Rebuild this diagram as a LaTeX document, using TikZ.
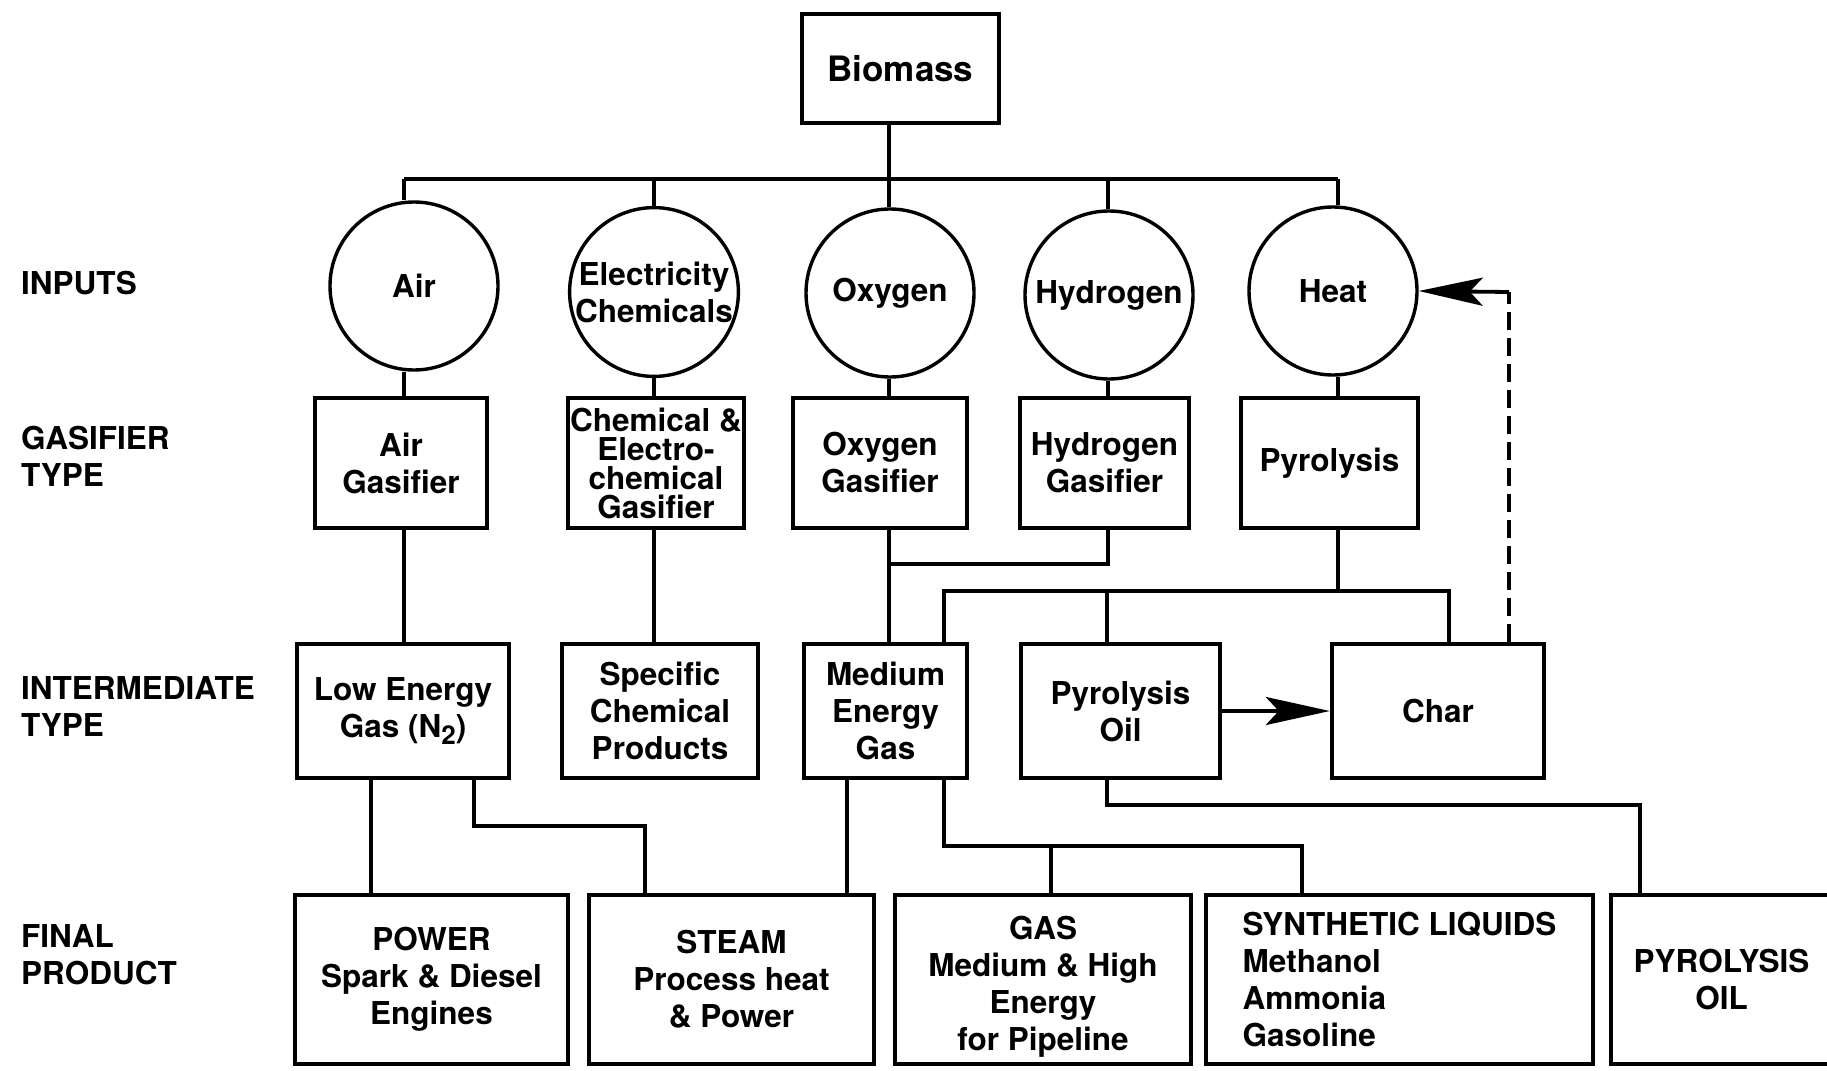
\documentclass[tikz,border=0pt]{standalone}
\usepackage{fontspec}
\setmainfont{TeX Gyre Heros}
\usetikzlibrary{arrows.meta}
\begin{document}
\begin{tikzpicture}[x=1pt,y=-1pt,
  every node/.style={font=\bfseries\fontsize{31.5}{37}\selectfont, align=center, inner sep=0pt},
  box/.style={draw, line width=4.4pt, rectangle},
  inp/.style={draw, circle, line width=3.4pt, minimum size=168pt},
  conn/.style={line width=3.8pt},
  lbl/.style={anchor=west, align=left},
  tip/.style={-{Stealth[length=64pt,width=28pt,inset=13pt]}}]
\path[use as bounding box] (0,0) rectangle (1827,1070);
\clip (0,0) rectangle (1827,1070);
\fill[white] (0,0) rectangle (1827,1070);

% top
\node[box, minimum width=197pt, minimum height=109pt, font=\bfseries\fontsize{35}{40}\selectfont] (bio) at (900.5,68.5) {Biomass};

% inputs
\node[inp] (airc) at (414,286) {Air};
\node[inp] (chemc) at (654,292) {Electricity\\Chemicals};
\node[inp] (oxc) at (890,293) {Oxygen};
\node[inp] (hydc) at (1109,295) {Hydrogen};
\node[inp] (heatc) at (1333,291) {Heat};

% gasifiers
\node[box, minimum width=172pt, minimum height=130pt] (airg) at (401,463) {Air\\Gasifier};
\node[box, minimum width=176pt, minimum height=130pt, font=\bfseries\fontsize{31.5}{29}\selectfont] (chemg) at (656,463) {Chemical \&\\Electro-\\chemical\\Gasifier};
\node[box, minimum width=174pt, minimum height=130pt] (oxyg) at (880,463) {Oxygen\\Gasifier};
\node[box, minimum width=169pt, minimum height=130pt] (hydg) at (1104.5,463) {Hydrogen\\Gasifier};
\node[box, minimum width=177pt, minimum height=130pt] (pyrg) at (1329.5,463) {Pyrolysis};

% intermediates
\node[box, minimum width=212pt, minimum height=134pt] (leg) at (403,711) {Low Energy\\Gas (N\raisebox{-7pt}{\fontsize{26}{26}\selectfont 2})};
\node[box, minimum width=196pt, minimum height=134pt] (scp) at (660,711) {Specific\\Chemical\\Products};
\node[box, minimum width=163pt, minimum height=134pt] (meg) at (885.5,711) {Medium\\Energy\\Gas};
\node[box, minimum width=199pt, minimum height=134pt] (pyo) at (1120.5,711) {Pyrolysis\\Oil};
\node[box, minimum width=212pt, minimum height=134pt] (char) at (1438,711) {Char};

% final products
\node[box, minimum width=273pt, minimum height=169pt] (power) at (431.5,979.5) {POWER\\Spark \& Diesel\\Engines};
\node[box, minimum width=285pt, minimum height=169pt] (steam) at (731.5,979.5) {STEAM\\Process heat\\\& Power};
\node[box, minimum width=296pt, minimum height=169pt] (gas) at (1043,979.5) {};
\node (gastext) at ([yshift=-7pt]gas.center) {GAS\\Medium \& High\\Energy\\for Pipeline};
\node[box, minimum width=387pt, minimum height=169pt, align=left] (synth) at (1399.5,979.5) {SYNTHETIC LIQUIDS\\Methanol\\Ammonia\\Gasoline};
\node[box, minimum width=221pt, minimum height=169pt] (pyrol) at (1721.5,979.5) {PYROLYSIS\\OIL};

% row labels
\node[lbl] (l1) at (21,283) {INPUTS};
\node[lbl] (l2) at (21,456) {GASIFIER\\TYPE};
\node[lbl] (l3) at (21,707) {INTERMEDIATE\\TYPE};
\node[lbl] (l4) at (21,955) {FINAL\\PRODUCT};

% column coordinates on the bus
\coordinate (bA) at (404,179);
\coordinate (bC) at (654,179);
\coordinate (bO) at (889,179);
\coordinate (bH) at (1108,179);
\coordinate (bT) at (1338,179);

% bus and stems
\draw[conn] (bA) -- (bT);
\draw[conn] (bio.south -| bO) -- (bO |- oxc.north);
\draw[conn] (bA) -- (bA |- airc.north);
\draw[conn] (bC) -- (bC |- chemc.north);
\draw[conn] (bH) -- (bH |- hydc.north);
\draw[conn] (bT) -- (bT |- heatc.north);

% inputs to gasifiers
\draw[conn] (bA |- airc.south) -- (bA |- airg.north);
\draw[conn] (bC |- chemc.south) -- (bC |- chemg.north);
\draw[conn] (bO |- oxc.south) -- (bO |- oxyg.north);
\draw[conn] (bH |- hydc.south) -- (bH |- hydg.north);
\draw[conn] (bT |- heatc.south) -- (bT |- pyrg.north);

% gasifiers to intermediates
\draw[conn] (bA |- airg.south) -- (bA |- leg.north);
\draw[conn] (bC |- chemg.south) -- (bC |- scp.north);
\draw[conn] (bO |- oxyg.south) -- (bO |- meg.north);
\coordinate (hj) at (1108,564);
\draw[conn] (bH |- hydg.south) -- (hj) -- (hj -| bO);
\coordinate (pj) at (1338,591);
\coordinate (pl) at (944,591);
\coordinate (pm) at (1107,591);
\coordinate (pr) at (1449,591);
\draw[conn] (pyrg.south -| pj) -- (pj);
\draw[conn] (meg.north -| pl) -- (pl) -- (pr) -- (char.north -| pr);
\draw[conn] (pm) -- (pyo.north -| pm);

% pyrolysis oil to char
\draw[conn, tip] (pyo.east) -- (char.west);

% char feedback to heat
\coordinate (fb) at (1509,292);
\draw[conn, dash pattern=on 18pt off 8pt] (char.north -| fb) -- (fb);
\draw[conn, tip] (fb) -- (heatc.east);

% intermediates to final products
\coordinate (lp) at (371,800);
\draw[conn] (leg.south -| lp) -- (power.north -| lp);
\coordinate (ls1) at (474,826);
\coordinate (ls2) at (645,826);
\draw[conn] (leg.south -| ls1) -- (ls1) -- (ls2) -- (steam.north -| ls2);
\coordinate (ms) at (847,850);
\draw[conn] (meg.south -| ms) -- (steam.north -| ms);
\coordinate (mg1) at (944,846);
\coordinate (mg3) at (1051,846);
\coordinate (mg2) at (1302,846);
\draw[conn] (meg.south -| mg1) -- (mg1) -- (mg2) -- (synth.north -| mg2);
\draw[conn] (mg3) -- (gas.north -| mg3);
\coordinate (po1) at (1107,805);
\coordinate (po2) at (1640,805);
\draw[conn] (pyo.south -| po1) -- (po1) -- (po2) -- (pyrol.north -| po2);
\end{tikzpicture}
\end{document}
